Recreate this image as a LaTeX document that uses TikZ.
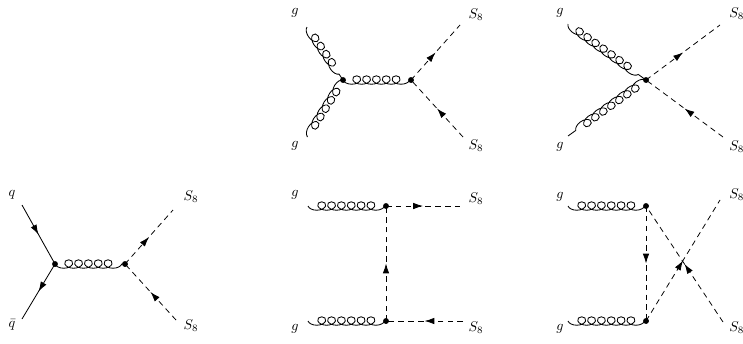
\documentclass[tikz,border=0pt]{standalone}
\usetikzlibrary{decorations.pathmorphing,decorations.markings,arrows.meta}
\tikzset{
  gluon/.style={decorate, decoration={coil, mirror, amplitude=3pt, segment length=7pt, aspect=1.5}, line width=0.6pt},
  scalar/.style={dash pattern=on 4pt off 3pt, line width=0.55pt},
  fermion/.style={line width=0.6pt},
  midarrow/.style={postaction={decorate, solid}, decoration={markings, mark=at position 0.5 with {\arrow{Latex[length=7pt,width=4.6pt]}}}},
  vertex/.style={circle, fill, inner sep=0pt, minimum size=4.2pt},
  lbl/.style={font=\normalsize, inner sep=0pt}
}
\begin{document}
\begin{tikzpicture}[x=0.025cm, y=-0.025cm]
\useasboundingbox (0,0) rectangle (743,343);

% q qbar -> S8 S8
\node[vertex] (a1) at (55,264) {};
\node[vertex] (a2) at (125,264) {};
\coordinate (aq) at (22,205);
\coordinate (aqb) at (22,319);
\coordinate (as1) at (173,210);
\coordinate (as2) at (176,320);
\node[lbl] (lq) at (12,195) {$q$};
\node[lbl] (lqb) at (12,325) {$\bar{q}$};
\node[lbl] (las1) at (191,197) {$S_8$};
\node[lbl] (las2) at (191,326) {$S_8$};
\draw[fermion, midarrow] (aq) -- (a1.center);
\draw[fermion, midarrow] (a1.center) -- (aqb);
\draw[gluon] (a1.center) -- (a2.center);
\draw[scalar, midarrow] (a2.center) -- (as1);
\draw[scalar, midarrow] (as2) -- (a2.center);

% g g -> S8 S8, s-channel
\node[vertex] (b1) at (343,80) {};
\node[vertex] (b2) at (411,80) {};
\coordinate (bg1) at (307,27);
\coordinate (bg2) at (307,137);
\coordinate (bs1) at (460,25);
\coordinate (bs2) at (463,137);
\node[lbl] (lbg1) at (295,13) {$g$};
\node[lbl] (lbg2) at (295,146) {$g$};
\node[lbl] (lbs1) at (476,15) {$S_8$};
\node[lbl] (lbs2) at (476,146) {$S_8$};
\draw[gluon] (bg1) -- (b1.center);
\draw[gluon] (b1.center) -- (bg2);
\draw[gluon] (b1.center) -- (b2.center);
\draw[scalar, midarrow] (b2.center) -- (bs1);
\draw[scalar, midarrow] (bs2) -- (b2.center);

% g g -> S8 S8, contact
\node[vertex] (c1) at (646,80) {};
\coordinate (cg1) at (568,24);
\coordinate (cg2) at (568,136);
\coordinate (cs1) at (720,25);
\coordinate (cs2) at (723,137);
\node[lbl] (lcg1) at (560,13) {$g$};
\node[lbl] (lcg2) at (560,147) {$g$};
\node[lbl, anchor=west] (lcs1) at (729,14) {$S_8$};
\node[lbl, anchor=west] (lcs2) at (729,147) {$S_8$};
\draw[gluon] (cg1) -- (c1.center);
\draw[gluon] (c1.center) -- (cg2);
\draw[scalar, midarrow] (c1.center) -- (cs1);
\draw[scalar, midarrow] (cs2) -- (c1.center);

% g g -> S8 S8, t-channel
\node[vertex] (d1) at (386,206) {};
\node[vertex] (d2) at (386,321) {};
\coordinate (dg1) at (308,206);
\coordinate (dg2) at (308,321);
\coordinate (ds1) at (460,206);
\coordinate (ds2) at (463,321);
\node[lbl] (ldg1) at (295,195) {$g$};
\node[lbl] (ldg2) at (295,329) {$g$};
\node[lbl] (lds1) at (476,199) {$S_8$};
\node[lbl] (lds2) at (476,328) {$S_8$};
\draw[gluon] (dg1) -- (d1.center);
\draw[gluon] (dg2) -- (d2.center);
\draw[scalar, midarrow] (d1.center) -- (ds1);
\draw[scalar, midarrow] (d2.center) -- (d1.center);
\draw[scalar, midarrow] (ds2) -- (d2.center);

% g g -> S8 S8, u-channel
\node[vertex] (e1) at (646,206) {};
\node[vertex] (e2) at (646,321) {};
\coordinate (eg1) at (568,206);
\coordinate (eg2) at (568,321);
\coordinate (es1) at (720,200);
\coordinate (es2) at (723,322);
\node[lbl] (leg1) at (560,197) {$g$};
\node[lbl] (leg2) at (560,329) {$g$};
\node[lbl, anchor=west] (les1) at (729,195) {$S_8$};
\node[lbl, anchor=west] (les2) at (729,328) {$S_8$};
\draw[gluon] (eg1) -- (e1.center);
\draw[gluon] (eg2) -- (e2.center);
\draw[scalar, midarrow] (e1.center) -- (e2.center);
\draw[scalar, midarrow] (e2.center) -- (es1);
\draw[scalar, midarrow] (es2) -- (e1.center);
\end{tikzpicture}
\end{document}
